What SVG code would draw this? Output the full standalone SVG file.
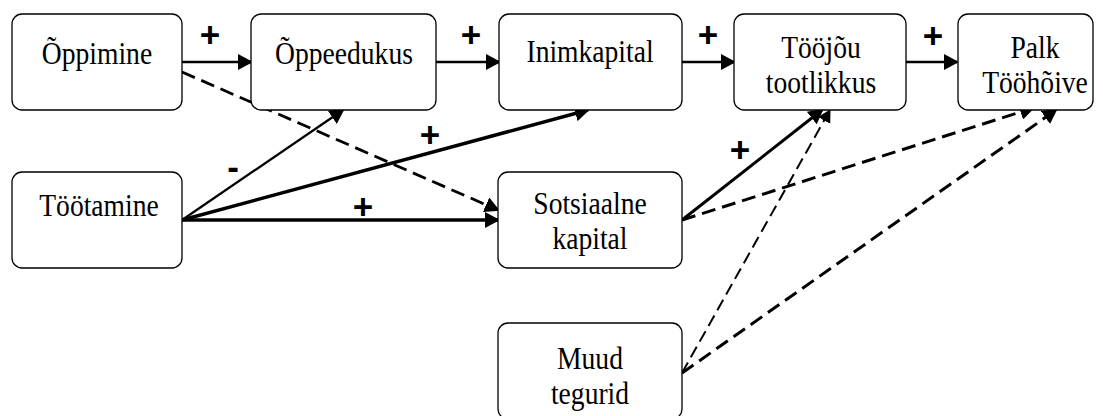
<svg xmlns="http://www.w3.org/2000/svg" width="1103" height="416" viewBox="0 0 1103 416">
<style>
.box{fill:#fff;stroke:#000;stroke-width:1.3}
.t{font-family:"Liberation Serif","Times New Roman",serif;font-size:31px;fill:#000;text-anchor:middle}
.lbl{font-family:"Liberation Sans",Arial,sans-serif;font-weight:bold;font-size:35px;fill:#000;text-anchor:middle}
.c{fill:none;stroke:#000}
.d{stroke-dasharray:14 7}
.dt{stroke-dasharray:12 6}
</style>
<defs>
<marker id="ah" markerUnits="userSpaceOnUse" markerWidth="16" markerHeight="16" refX="13" refY="8" orient="auto" viewBox="0 0 16 16">
<path d="M0,0 L15,8 L0,16 z" fill="#000"/>
</marker>
<marker id="ahs" markerUnits="userSpaceOnUse" markerWidth="14" markerHeight="14" refX="12" refY="7" orient="auto" viewBox="0 0 14 14">
<path d="M0,0 L13,7 L0,14 z" fill="#000"/>
</marker>
</defs>
<g id="connectors">
<line class="c" x1="182" y1="62" x2="251" y2="62" stroke-width="2.5" marker-end="url(#ah)"/>
<line class="c" x1="436" y1="62" x2="499" y2="62" stroke-width="2.5" marker-end="url(#ah)"/>
<line class="c" x1="682" y1="62" x2="734" y2="62" stroke-width="2.5" marker-end="url(#ah)"/>
<line class="c" x1="906" y1="62" x2="957" y2="62" stroke-width="2.5" marker-end="url(#ah)"/>
<line class="c d" x1="182" y1="72" x2="498" y2="210" stroke-width="2.8" marker-end="url(#ah)"/>
<line class="c" x1="182" y1="220" x2="343" y2="110" stroke-width="2.2" marker-end="url(#ah)"/>
<line class="c" x1="182" y1="220" x2="588" y2="110" stroke-width="3.4" marker-end="url(#ah)"/>
<line class="c" x1="182" y1="220" x2="498" y2="220" stroke-width="3.4" marker-end="url(#ah)"/>
<line class="c" x1="682" y1="220" x2="822" y2="110" stroke-width="3" marker-end="url(#ah)"/>
<line class="c d" x1="682" y1="220" x2="1033" y2="108" stroke-width="3" marker-end="url(#ah)"/>
<line class="c dt" x1="682" y1="373" x2="830" y2="110" stroke-width="2" marker-end="url(#ahs)"/>
<line class="c d" x1="682" y1="373" x2="1056" y2="110" stroke-width="3" marker-end="url(#ah)"/>
<text class="lbl" x="210" y="47">+</text>
<text class="lbl" x="471" y="47">+</text>
<text class="lbl" x="708" y="47">+</text>
<text class="lbl" x="933" y="48">+</text>
<text class="lbl" x="233" y="179" font-size="44">-</text>
<text class="lbl" x="430" y="147">+</text>
<text class="lbl" x="363" y="219">+</text>
<text class="lbl" x="740" y="162">+</text>
</g>
<g id="n-oppimine">
<rect class="box" x="12" y="14" width="170" height="96" rx="10"/>
<text class="t" transform="translate(97 64) scale(0.89 1)">Õppimine</text>
</g>
<g id="n-oppeedukus">
<rect class="box" x="251" y="14" width="185" height="96" rx="10"/>
<text class="t" transform="translate(344 64) scale(0.89 1)">Õppeedukus</text>
</g>
<g id="n-inimkapital">
<rect class="box" x="499" y="14" width="183" height="96" rx="10"/>
<text class="t" transform="translate(590 62) scale(0.89 1)">Inimkapital</text>
</g>
<g id="n-toojou">
<rect class="box" x="734" y="14" width="172" height="96" rx="10"/>
<text class="t" transform="translate(821 0) scale(0.89 1)"><tspan x="0" y="58">Tööjõu</tspan><tspan x="0" y="93">tootlikkus</tspan></text>
</g>
<g id="n-palk">
<rect class="box" x="958" y="14" width="135" height="96" rx="10"/>
<text class="t" transform="translate(1035 0) scale(0.89 1)"><tspan x="0" y="58">Palk</tspan><tspan x="0" y="93">Tööhõive</tspan></text>
</g>
<g id="n-tootamine">
<rect class="box" x="12" y="172" width="170" height="96" rx="10"/>
<text class="t" transform="translate(99 216) scale(0.89 1)">Töötamine</text>
</g>
<g id="n-sotsiaalne">
<rect class="box" x="498" y="172" width="184" height="96" rx="10"/>
<text class="t" transform="translate(590 0) scale(0.89 1)"><tspan x="0" y="214">Sotsiaalne</tspan><tspan x="0" y="249">kapital</tspan></text>
</g>
<g id="n-muud">
<rect class="box" x="498" y="323" width="184" height="96" rx="10"/>
<text class="t" transform="translate(590 0) scale(0.89 1)"><tspan x="0" y="369">Muud</tspan><tspan x="0" y="404">tegurid</tspan></text>
</g>
</svg>
